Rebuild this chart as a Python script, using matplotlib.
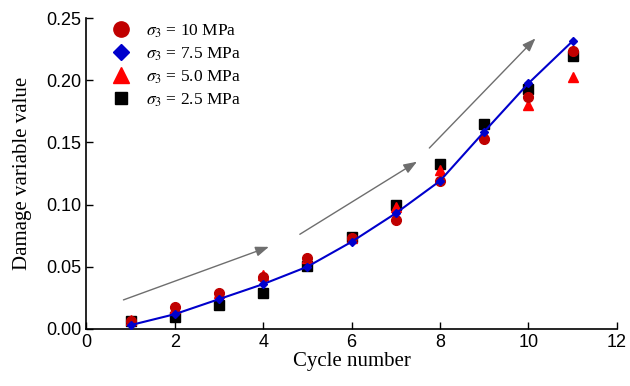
import matplotlib
matplotlib.use("Agg")
import matplotlib.pyplot as plt
import numpy as np

plt.rcParams['mathtext.fontset'] = 'stix'

# damage variable vs. cycle number for four confining pressures
cycles = np.arange(1, 12)
d_10 = [0.0067, 0.0174, 0.0287, 0.0420, 0.0573, 0.0729, 0.0876, 0.1190, 0.1525, 0.1868, 0.2237]
d_75 = [0.0030, 0.0118, 0.0239, 0.0360, 0.0500, 0.0700, 0.0930, 0.1190, 0.1586, 0.1975, 0.2315]
d_50 = [0.0070, 0.0170, 0.0290, 0.0430, 0.0570, 0.0735, 0.0980, 0.1280, 0.1570, 0.1800, 0.2028]
d_25 = [0.0060, 0.0099, 0.0193, 0.0292, 0.0506, 0.0740, 0.0997, 0.1330, 0.1645, 0.1927, 0.2197]

labels = [r'$\sigma_3$ = 10 MPa', r'$\sigma_3$ = 7.5 MPa',
          r'$\sigma_3$ = 5.0 MPa', r'$\sigma_3$ = 2.5 MPa']

# trend arrows (start, end) in data units
arrows = [((0.84, 0.0233), (4.13, 0.066)),
          ((4.83, 0.0761), (7.48, 0.1345)),
          ((7.76, 0.1455), (10.16, 0.2337))]

fig = plt.figure(figsize=(6.3, 3.86), dpi=100)
ax = fig.add_axes([0.137, 0.148, 0.842, 0.805])

ax.plot(cycles, d_25, 's', color='black', ms=6.5, ls='none', zorder=3)
ax.plot(cycles, d_50, '^', color='#ff0000', ms=7, ls='none', zorder=4)
ax.plot(cycles, d_10, 'o', color='#c00000', ms=7, ls='none', zorder=5)
ax.plot(cycles, d_75, marker='D', color='#0000cc', ms=4, ls='-', lw=1.5, zorder=6)

for (x0, y0), (x1, y1) in arrows:
    ax.annotate('', xy=(x1, y1), xytext=(x0, y0),
                arrowprops=dict(arrowstyle='-|>,head_length=0.8,head_width=0.3',
                                color='#6e6e6e', lw=1.0, shrinkA=0, shrinkB=0))

leg_h = [
    plt.Line2D([], [], marker='o', color='#c00000', ls='none', ms=11),
    plt.Line2D([], [], marker='D', color='#0000cc', ls='none', ms=8),
    plt.Line2D([], [], marker='^', color='#ff0000', ls='none', ms=11),
    plt.Line2D([], [], marker='s', color='black', ls='none', ms=9),
]
ax.legend(leg_h, labels, loc='upper left', bbox_to_anchor=(0.02, 1.02), frameon=False,
          prop={'family': 'Liberation Serif', 'size': 12.5}, handletextpad=0.6,
          handlelength=1.6, labelspacing=0.32, borderaxespad=0.2)

ax.set_xlim(0, 12)
ax.set_ylim(0, 0.25)
ax.set_xticks(np.arange(0, 13, 2))
ax.set_yticks(np.arange(0, 0.26, 0.05))
ax.yaxis.set_major_formatter(matplotlib.ticker.FormatStrFormatter('%.2f'))
ax.tick_params(direction='in', length=5, width=1, labelsize=13)
for lab in ax.get_xticklabels() + ax.get_yticklabels():
    lab.set_family('Liberation Sans')
ax.spines['top'].set_visible(False)
ax.spines['right'].set_visible(False)
for s in ('left', 'bottom'):
    ax.spines[s].set_linewidth(1.2)

ax.set_xlabel('Cycle number', family='Liberation Serif', fontsize=15, labelpad=1)
ax.set_ylabel('Damage variable value', family='Liberation Serif', fontsize=15, labelpad=10)

fig.savefig('out.png', dpi=100)
